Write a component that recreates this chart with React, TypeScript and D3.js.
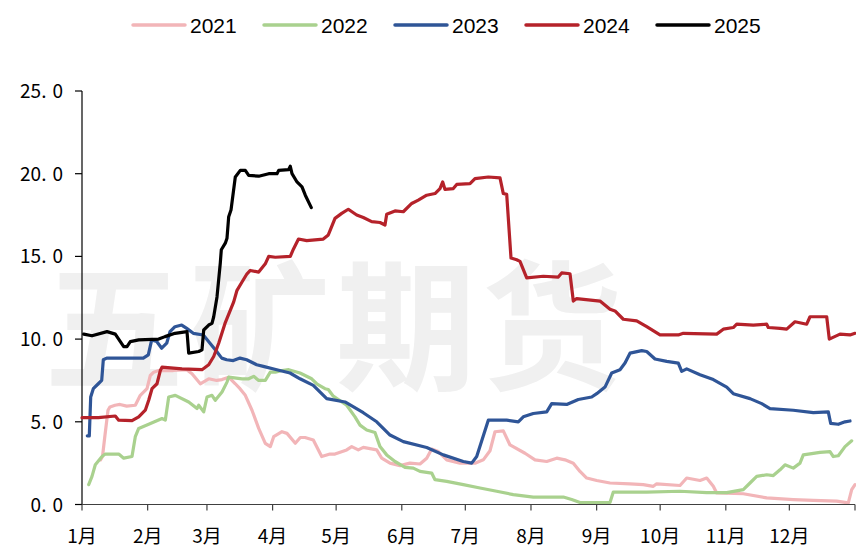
import React from "react";
import * as d3 from "d3";

// [x position, value]
const s2021: [number, number][] = [
  [100.5, 2.7], [102.5, 2.9], [105, 4.2], [108, 5.7], [110, 5.9], [115, 6.0], [120, 6.05], [126.7, 5.95], [135.3, 6.0],
  [140.3, 6.6], [147, 7.0], [150.3, 7.8], [153.7, 8.0], [158.7, 8.1], [173.3, 8.1], [186.7, 8.15], [192, 7.9],
  [200.3, 7.3], [208.7, 7.6], [216.7, 7.5], [222, 7.55], [228.7, 7.7], [235.3, 7.3], [240, 7.0], [245.3, 6.6],
  [252, 5.7], [258.7, 4.6], [265.3, 3.7], [270.3, 3.5], [273.7, 4.1], [282, 4.4], [287, 4.3], [295.3, 3.7],
  [300.3, 4.05], [305, 4.05], [313.3, 3.9], [321.7, 2.9], [330, 3.05], [335, 3.05], [346.7, 3.3], [351.7, 3.5],
  [358.3, 3.3], [363.3, 3.45], [376.7, 3.3], [381.7, 2.8], [390, 2.5], [400, 2.35], [410, 2.5], [420, 2.45],
  [426.7, 2.8], [431.7, 3.35], [438.3, 3.2], [446.7, 2.7], [460, 2.5], [475, 2.5], [483.3, 2.7], [490, 3.25],
  [495, 4.4], [503.3, 4.45], [510, 3.6], [525, 3.1], [535, 2.7], [546.7, 2.6], [556.7, 2.8], [565, 2.7],
  [573.3, 2.5], [580, 2.0], [586.7, 1.6], [596.7, 1.45], [610, 1.3], [630, 1.25], [643.3, 1.2], [653.3, 1.1],
  [656.7, 1.25], [680, 1.15], [686.7, 1.6], [700, 1.45], [706.7, 1.6], [713.3, 1.1], [716.7, 0.7], [743.3, 0.65],
  [766.7, 0.4], [793.3, 0.3], [813.3, 0.25], [836.7, 0.2], [848.3, 0.1], [851.7, 0.9], [855, 1.2]
];
const s2022: [number, number][] = [
  [88.7, 1.2], [92, 1.7], [95.3, 2.4], [102, 2.9], [105.3, 3.05], [118.7, 3.05], [123.7, 2.8], [132, 2.9],
  [135.3, 4.1], [138.7, 4.6], [148.7, 4.85], [162, 5.2], [165.3, 5.1], [168.7, 6.5], [175.3, 6.6], [188.7, 6.2],
  [197, 5.8], [198.7, 6.0], [203.7, 5.6], [207, 6.5], [212, 6.6], [215.3, 6.3], [222, 6.8], [227, 7.4],
  [228.7, 7.7], [242, 7.6], [248.7, 7.6], [253.7, 7.75], [258.7, 7.5], [265.3, 7.5], [270.3, 8.0], [275.3, 8.0],
  [282, 8.1], [288.7, 8.15], [300, 7.95], [311.7, 7.6], [316.7, 7.3], [325, 7.0], [328.3, 6.95], [333.3, 6.55],
  [346.7, 6.0], [355, 5.3], [360, 4.8], [366.7, 4.5], [375, 4.35], [380, 3.5], [386.7, 3.0], [395, 2.6],
  [405, 2.25], [413.3, 2.2], [420, 2.0], [431.7, 1.9], [435, 1.5], [446.7, 1.4], [463.3, 1.2], [480, 1.0],
  [496.7, 0.8], [513.3, 0.6], [533.3, 0.45], [563.3, 0.45], [571.7, 0.3], [580, 0.12], [610, 0.12],
  [613.3, 0.75], [646.7, 0.75], [680, 0.8], [706.7, 0.72], [726.7, 0.72], [743.3, 0.9], [750, 1.3],
  [756.7, 1.7], [766.7, 1.8], [773.3, 1.75], [780, 2.1], [785, 2.4], [793.3, 2.2], [800, 2.5], [803.3, 3.0],
  [820, 3.15], [830, 3.2], [833.3, 2.9], [838.3, 2.95], [845, 3.5], [851.7, 3.85]
];
const s2023: [number, number][] = [
  [87.3, 4.15], [89.3, 4.15], [90.7, 6.5], [93.3, 7.0], [98.3, 7.3], [101.7, 7.5], [103.3, 8.75], [106.7, 8.85],
  [143.3, 8.85], [148.3, 9.05], [151.7, 9.95], [156.7, 9.85], [161.7, 9.45], [166.7, 9.75], [170, 10.45],
  [175, 10.75], [181.7, 10.85], [186.7, 10.65], [193.3, 10.35], [203.3, 10.25], [210, 9.75], [216.7, 9.25],
  [221.7, 8.85], [226.7, 8.75], [233.3, 8.7], [240, 8.85], [246.7, 8.75], [256.7, 8.45], [263.3, 8.35],
  [276.7, 8.15], [290, 7.95], [300, 7.6], [313.3, 7.2], [326.7, 6.4], [345, 6.2], [363.3, 5.55], [376.7, 5.0],
  [390, 4.2], [403.3, 3.8], [426.7, 3.45], [443.3, 3.0], [463.3, 2.6], [471.7, 2.5], [476.7, 2.9], [488.3, 5.1],
  [506.7, 5.1], [518.3, 5.0], [523.3, 5.3], [533.3, 5.5], [546.7, 5.6], [551.7, 6.1], [566.7, 6.05],
  [578.3, 6.35], [591.7, 6.5], [596.7, 6.7], [605, 7.1], [611.7, 7.95], [620, 8.15], [625, 8.55], [630, 9.15],
  [641.7, 9.3], [646.7, 9.25], [655, 8.8], [666.7, 8.65], [678.3, 8.55], [681.7, 8.05], [686.7, 8.2],
  [700, 7.85], [713.3, 7.55], [726.7, 7.1], [733.3, 6.7], [750, 6.4], [761.7, 6.1], [770, 5.8], [793.3, 5.7],
  [813.3, 5.55], [828.3, 5.6], [830.7, 4.9], [838.3, 4.85], [845, 5.0], [850, 5.05]
];
const s2024: [number, number][] = [
  [82, 5.25], [98.3, 5.25], [115.3, 5.35], [118.7, 5.1], [132, 5.07], [138.7, 5.3], [145.3, 5.7], [148.7, 6.3],
  [152, 7.0], [157, 7.3], [160.3, 8.1], [162, 8.3], [182, 8.2], [202, 8.15], [208.7, 8.45], [213.7, 8.95],
  [218.7, 9.75], [225.3, 11.0], [233.7, 12.25], [237, 12.95], [242, 13.45], [247, 13.95], [250.3, 14.15],
  [258.7, 14.05], [265.3, 14.55], [268.7, 15.0], [275.3, 14.95], [290.3, 15.0], [293.5, 15.45], [298.5, 16.05],
  [306.7, 15.95], [323.3, 16.05], [328.3, 16.3], [335, 17.3], [341.7, 17.6], [348.3, 17.85], [356.7, 17.5],
  [363.3, 17.35], [371.7, 17.1], [380, 17.05], [385, 16.9], [386.7, 17.55], [395, 17.75], [403.3, 17.7],
  [411.7, 18.2], [418.3, 18.4], [426.7, 18.7], [435, 18.8], [440, 19.1], [442.7, 19.5], [445, 19.05],
  [453.3, 19.1], [456.7, 19.35], [470, 19.4], [475, 19.7], [488.3, 19.8], [500, 19.75], [503.3, 18.8],
  [506.7, 18.75], [511, 14.9], [516.7, 14.8], [520, 14.7], [526.7, 13.7], [543.3, 13.8], [558.3, 13.75],
  [561.7, 14.0], [570, 13.95], [573.3, 12.3], [576.7, 12.45], [600, 12.3], [610, 11.8], [615, 11.7],
  [623.3, 11.2], [636.7, 11.1], [646.7, 10.75], [660, 10.25], [678.3, 10.25], [683.3, 10.35], [716.7, 10.3],
  [723.3, 10.6], [733.3, 10.7], [736.7, 10.9], [753.3, 10.85], [766.7, 10.9], [768.3, 10.7], [780, 10.65],
  [786.7, 10.6], [795, 11.05], [806.7, 10.9], [810, 11.35], [826.7, 11.35], [829.3, 10.0], [840, 10.3],
  [850, 10.25], [855, 10.35]
];
const s2025: [number, number][] = [
  [83.7, 10.3], [92, 10.2], [107, 10.45], [115.3, 10.3], [123.7, 9.55], [127, 9.55], [130.3, 9.85],
  [138.7, 9.95], [158.7, 10.0], [165, 10.15], [175, 10.35], [187, 10.45], [188.7, 9.15], [198.7, 9.25],
  [202, 9.35], [203.7, 10.55], [208.7, 10.85], [212, 10.95], [213.7, 11.35], [217, 12.55], [220.3, 14.6],
  [221.3, 15.4], [225.3, 15.8], [227, 16.1], [228.7, 17.4], [231, 17.8], [235.3, 19.8], [240.3, 20.2],
  [245.3, 20.2], [248.7, 19.9], [258.7, 19.85], [268.7, 20.0], [277, 20.0], [278.7, 20.2], [288.7, 20.25],
  [290.3, 20.45], [292, 20.0], [297, 19.5], [302, 19.2], [305.3, 18.7], [311.3, 17.95]
];

const years = ["2021", "2022", "2023", "2024", "2025"];
const colors = ["#f2b5b8", "#a9d18e", "#2f5597", "#b5222a", "#000000"];
const months = ["1月", "2月", "3月", "4月", "5月", "6月", "7月", "8月", "9月", "10月", "11月", "12月"];
const monthStarts = [0, 31, 59, 90, 120, 151, 181, 212, 243, 273, 304, 334, 365];
const yTicks = [0, 5, 10, 15, 20, 25];

const W = 856;
const H = 548;
const left = 82;
const right = 855;
const top = 91;
const bottom = 504.5;

// series were read as pixel x positions; turn into days of the year
const pxToDay = (px: number) => ((px - left) / (right - left)) * 365;
const allSeries = [s2021, s2022, s2023, s2024, s2025].map((s) =>
  s.map(([px, v]) => [pxToDay(px), v] as [number, number])
);

export default function App() {
  const x = d3.scaleLinear().domain([0, 365]).range([left, right]);
  const y = d3.scaleLinear().domain([0, 25]).range([bottom, top]);
  const line = d3
    .line<[number, number]>()
    .x((d) => x(d[0]))
    .y((d) => y(d[1]));

  const fmt = d3.format(".1f");
  const cjk = "'Noto Sans CJK SC', 'Noto Sans', sans-serif";

  return (
    <svg
      width={W}
      height={H}
      style={{ position: "absolute", left: 0, top: 0, background: "#fff" }}
    >
      {/* watermark */}
      <text
        x={336}
        y={318}
        textAnchor="middle"
        dominantBaseline="central"
        fontFamily={cjk}
        fontWeight={700}
        fontSize={140}
        letterSpacing={6}
        fill="#f0f0f0"
      >
        五矿期货
      </text>

      {/* legend */}
      {years.map((yr, i) => (
        <g key={yr} transform={`translate(${133 + i * 131},25)`}>
          <line x1={0} x2={52} stroke={colors[i]} strokeWidth={3.5} strokeLinecap="round" />
          <text
            x={57}
            y={7.5}
            fontFamily="'Liberation Sans Narrow', 'Arial Narrow', 'Liberation Sans', sans-serif"
            fontSize={21}
            fill="#000"
          >
            {yr}
          </text>
        </g>
      ))}

      {/* y axis */}
      <line x1={left} x2={left} y1={top} y2={bottom} stroke="#000" strokeWidth={1.2} />
      {yTicks.map((t) => {
        const [a, b] = fmt(t).split(".");
        return (
          <g key={t} transform={`translate(0,${y(t)})`}>
            <line x1={left - 7} x2={left} stroke="#000" strokeWidth={1.2} />
            <text x={63} y={7} textAnchor="end" fontFamily={cjk} fontSize={19} fill="#000">
              {a}.<tspan dx={6}>{b}</tspan>
            </text>
          </g>
        );
      })}

      {/* series */}
      {allSeries.map((s, i) => (
        <path
          key={years[i]}
          d={line(s) ?? ""}
          fill="none"
          stroke={colors[i]}
          strokeWidth={3.2}
          strokeLinejoin="round"
          strokeLinecap="round"
        />
      ))}

      {/* x axis */}
      <line x1={left} x2={right} y1={bottom} y2={bottom} stroke="#404040" strokeWidth={1.2} />
      {monthStarts.map((d) => (
        <line key={d} x1={x(d)} x2={x(d)} y1={bottom} y2={bottom + 6} stroke="#404040" strokeWidth={1.2} />
      ))}
      {months.map((m, i) => (
        <text
          key={m}
          x={x(monthStarts[i])}
          y={543}
          textAnchor="middle"
          fontFamily={cjk}
          fontSize={19}
          fill="#000"
        >
          {m}
        </text>
      ))}
    </svg>
  );
}
